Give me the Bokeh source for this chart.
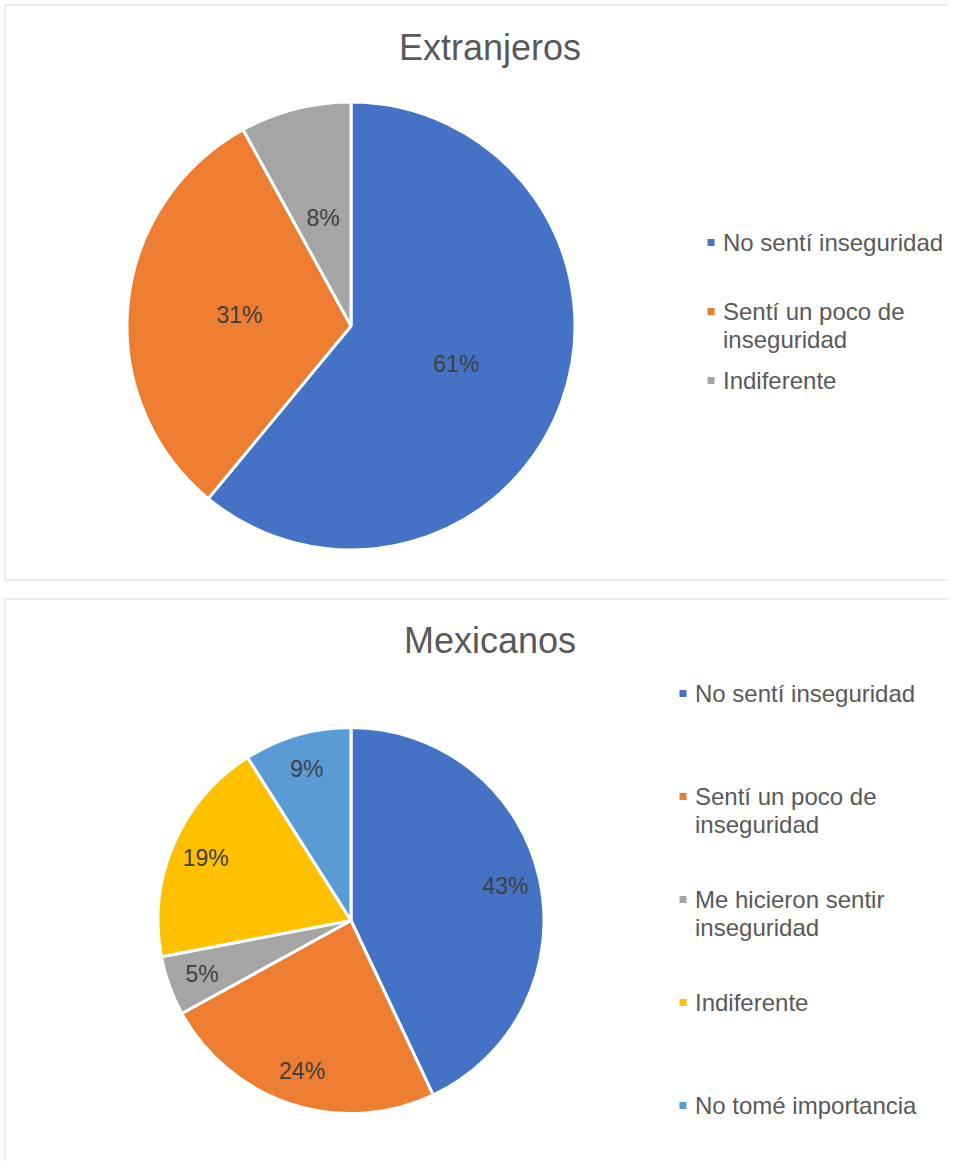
import math
from bokeh.plotting import figure
from bokeh.models import Range1d, ColumnDataSource
from bokeh.core.properties import value
from bokeh.embed import file_html
from bokeh.resources import INLINE

# ---------------- data ----------------
ext_title = "Extranjeros"
ext_categories = ["No sentí inseguridad", "Sentí un poco de\ninseguridad", "Indiferente"]
ext_values = [61, 31, 8]
ext_colors = ["#4472C4", "#ED7D31", "#A5A5A5"]

mex_title = "Mexicanos"
mex_categories = ["No sentí inseguridad", "Sentí un poco de\ninseguridad",
                  "Me hicieron sentir\ninseguridad", "Indiferente", "No tomé importancia"]
mex_values = [43, 24, 5, 19, 9]
mex_colors = ["#4472C4", "#ED7D31", "#A5A5A5", "#FFC000", "#5B9BD5"]

FONT = "Liberation Sans"

W, H = 948, 1161
p = figure(width=W, height=H, output_backend="svg", toolbar_location=None,
           x_range=Range1d(0, W), y_range=Range1d(-H, 0),
           min_border=0, background_fill_color="white", border_fill_color="white")
p.axis.visible = False
p.grid.visible = False
p.outline_line_color = None


def draw_chart(title, cats, vals, colors, box, cx, cy, r, label_frac,
               title_y, leg_x, leg_y0, leg_step):
    # frame
    p.quad(left=[box[0]], right=[box[1]], top=[-box[2]], bottom=[-box[3]],
           fill_color=None, line_color="#D9D9D9", line_width=1)
    total = float(sum(vals))
    fr = [v / total for v in vals]
    starts, ends, lx, ly, labels = [], [], [], [], []
    cum = 0.0
    for f in fr:
        a0 = math.pi / 2 - 2 * math.pi * cum
        a1 = math.pi / 2 - 2 * math.pi * (cum + f)
        mid = math.pi / 2 - 2 * math.pi * (cum + f / 2)
        starts.append(a0)
        ends.append(a1)
        lx.append(cx + label_frac * r * math.cos(mid))
        ly.append(-cy + label_frac * r * math.sin(mid))
        labels.append(f"{round(f * 100):.0f}%")
        cum += f
    src = ColumnDataSource(dict(start=starts, end=ends, color=colors, lx=lx, ly=ly, label=labels))
    p.wedge(x=cx, y=-cy, radius=r, start_angle="start", end_angle="end",
            direction="clock", fill_color="color", line_color="white",
            line_width=3, source=src)
    p.text(x="lx", y="ly", text="label", source=src, text_align="center",
           text_baseline="middle", text_font=value(FONT), text_font_size="23px",
           text_color="#404040")
    # title
    p.text(x=[cx + 139], y=[-title_y], text=[title], text_align="center",
           text_baseline="middle", text_font=value(FONT), text_font_size="36px",
           text_color="#595959")
    # legend
    ys = [-(leg_y0 + leg_step * i) for i in range(len(cats))]
    p.scatter(x=[leg_x] * len(cats), y=ys, marker="square", size=7,
              fill_color=colors, line_color=None)
    p.text(x=[leg_x + 12] * len(cats), y=[y + 14 for y in ys], text=cats,
           text_align="left", text_baseline="top", text_font=value(FONT),
           text_font_size="24px", text_color="#595959", text_line_height=1.05)


draw_chart(ext_title, ext_categories, ext_values, ext_colors,
           box=(4.5, 975, 4.5, 579.5), cx=350.5, cy=325.5, r=224, label_frac=0.5,
           title_y=47, leg_x=710.5, leg_y0=242, leg_step=69)

draw_chart(mex_title, mex_categories, mex_values, mex_colors,
           box=(4.5, 975, 598.5, 1190), cx=350.5, cy=920, r=193, label_frac=0.82,
           title_y=640, leg_x=682.5, leg_y0=693, leg_step=103)

open("out.html", "w").write(file_html(p, INLINE))
